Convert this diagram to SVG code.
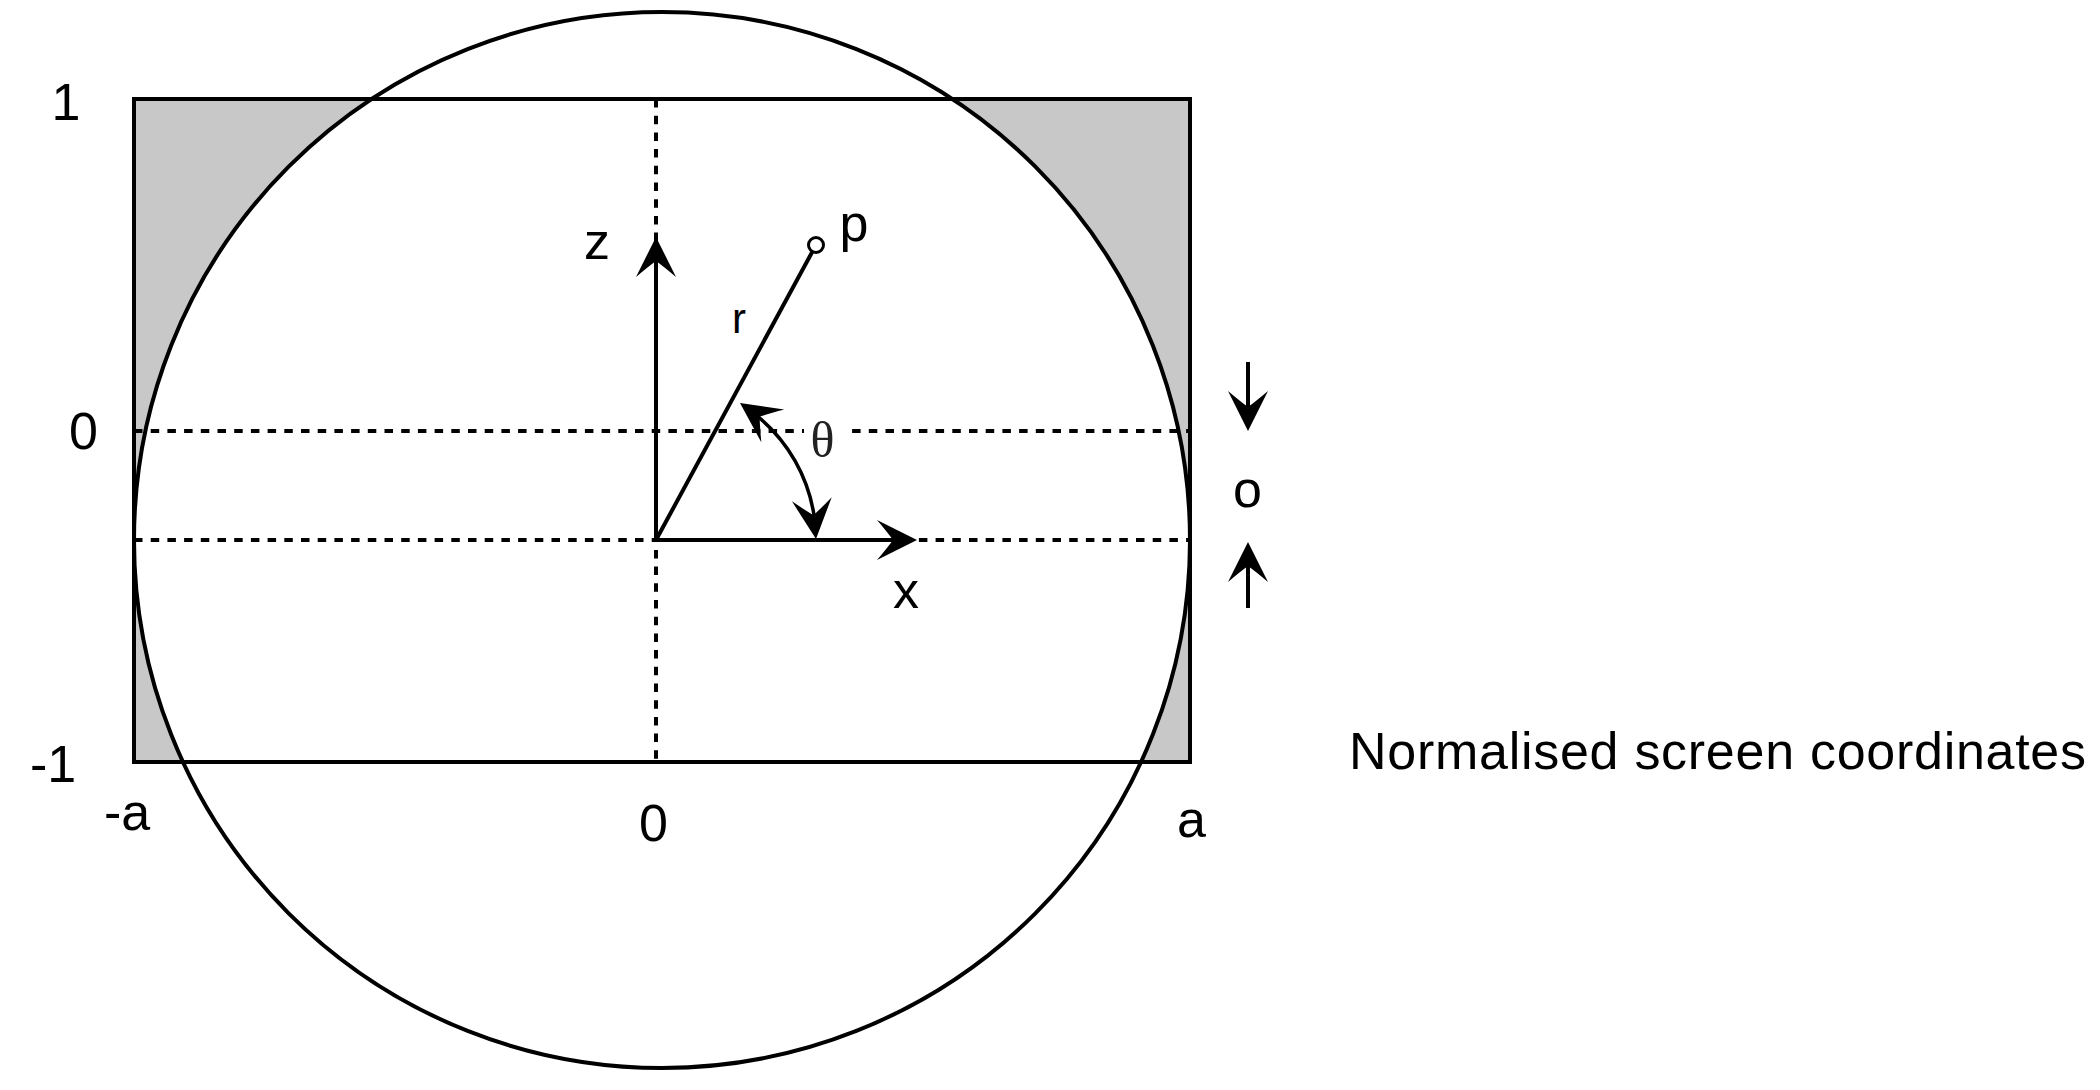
<svg xmlns="http://www.w3.org/2000/svg" xmlns:xlink="http://www.w3.org/1999/xlink" width="2100" height="1090" viewBox="0 0 2100 1090">
  <style>
    .lbl { font-family: "Liberation Sans", Arial, sans-serif; font-size: 52px; fill: #000; text-anchor: middle; }
    .solid { fill: none; stroke: #000; stroke-width: 4; }
    .dash { fill: none; stroke: #000; stroke-width: 4; stroke-dasharray: 8.5 8.2; }
    .head { fill: #000; stroke: none; }
  </style>
  <defs>
    <path id="head" d="M0,0 L-40,-20 Q-29,-7 -24,0 Q-29,7 -40,20 Z"/>
  </defs>
  <rect width="2100" height="1090" fill="#fff"/>

  <g id="screen">
    <rect x="134" y="99" width="1056" height="663" fill="#c8c8c8" stroke="none"/>
    <circle cx="662" cy="540" r="528" fill="#fff" stroke="#000" stroke-width="4"/>
    <rect x="134" y="99" width="1056" height="663" fill="none" stroke="#000" stroke-width="4"/>
  </g>

  <g id="connectors">
    <line class="dash" x1="134" y1="431" x2="1190" y2="431"/>
    <line class="dash" x1="134" y1="540" x2="1190" y2="540"/>
    <line class="dash" x1="656" y1="99" x2="656" y2="762"/>
    <rect x="804" y="416" width="47" height="44" fill="#fff"/>
    <!-- z axis -->
    <line class="solid" x1="656" y1="540" x2="656" y2="258"/>
    <use xlink:href="#head" class="head" transform="translate(656,237) rotate(-90)"/>
    <!-- x axis -->
    <line class="solid" x1="654" y1="540" x2="896" y2="540"/>
    <use xlink:href="#head" class="head" transform="translate(917,540)"/>
    <!-- r -->
    <line class="solid" x1="656" y1="540" x2="812.4" y2="251.6"/>
    <circle cx="816" cy="245" r="7.5" fill="#fff" stroke="#000" stroke-width="3"/>
    <!-- theta arc -->
    <path d="M756.7,415.7 A160,160 0 0 1 814.4,517.7" fill="none" stroke="#000" stroke-width="3.5"/>
    <use xlink:href="#head" class="head" transform="translate(740,403) rotate(215)"/>
    <use xlink:href="#head" class="head" transform="translate(816,539) rotate(84)"/>
    <!-- offset arrows -->
    <line class="solid" x1="1248" y1="362" x2="1248" y2="410"/>
    <use xlink:href="#head" class="head" transform="translate(1248,431) rotate(90)"/>
    <line class="solid" x1="1248" y1="608" x2="1248" y2="563"/>
    <use xlink:href="#head" class="head" transform="translate(1248,542) rotate(-90)"/>
  </g>

  <g id="labels">
    <text class="lbl" x="66" y="120">1</text>
    <text class="lbl" x="83.5" y="449">0</text>
    <text class="lbl" x="53" y="782">-1</text>
    <text class="lbl" x="127" y="830">-a</text>
    <text class="lbl" x="653.5" y="841">0</text>
    <text class="lbl" x="1191.5" y="837">a</text>
    <text class="lbl" x="597" y="259">z</text>
    <text class="lbl" x="906" y="608">x</text>
    <text class="lbl" x="1247.5" y="507">o</text>
    <text class="lbl" x="739" y="333" style="font-size:42px">r</text>
    <text class="lbl" x="854" y="241">p</text>
    <text x="822.5" y="457" style="font-family:'Liberation Serif','Times New Roman',serif;font-size:50px;fill:#222;text-anchor:middle">θ</text>
    <text class="lbl" x="1349" y="769" style="text-anchor:start" textLength="737" lengthAdjust="spacing">Normalised screen coordinates</text>
  </g>
</svg>
